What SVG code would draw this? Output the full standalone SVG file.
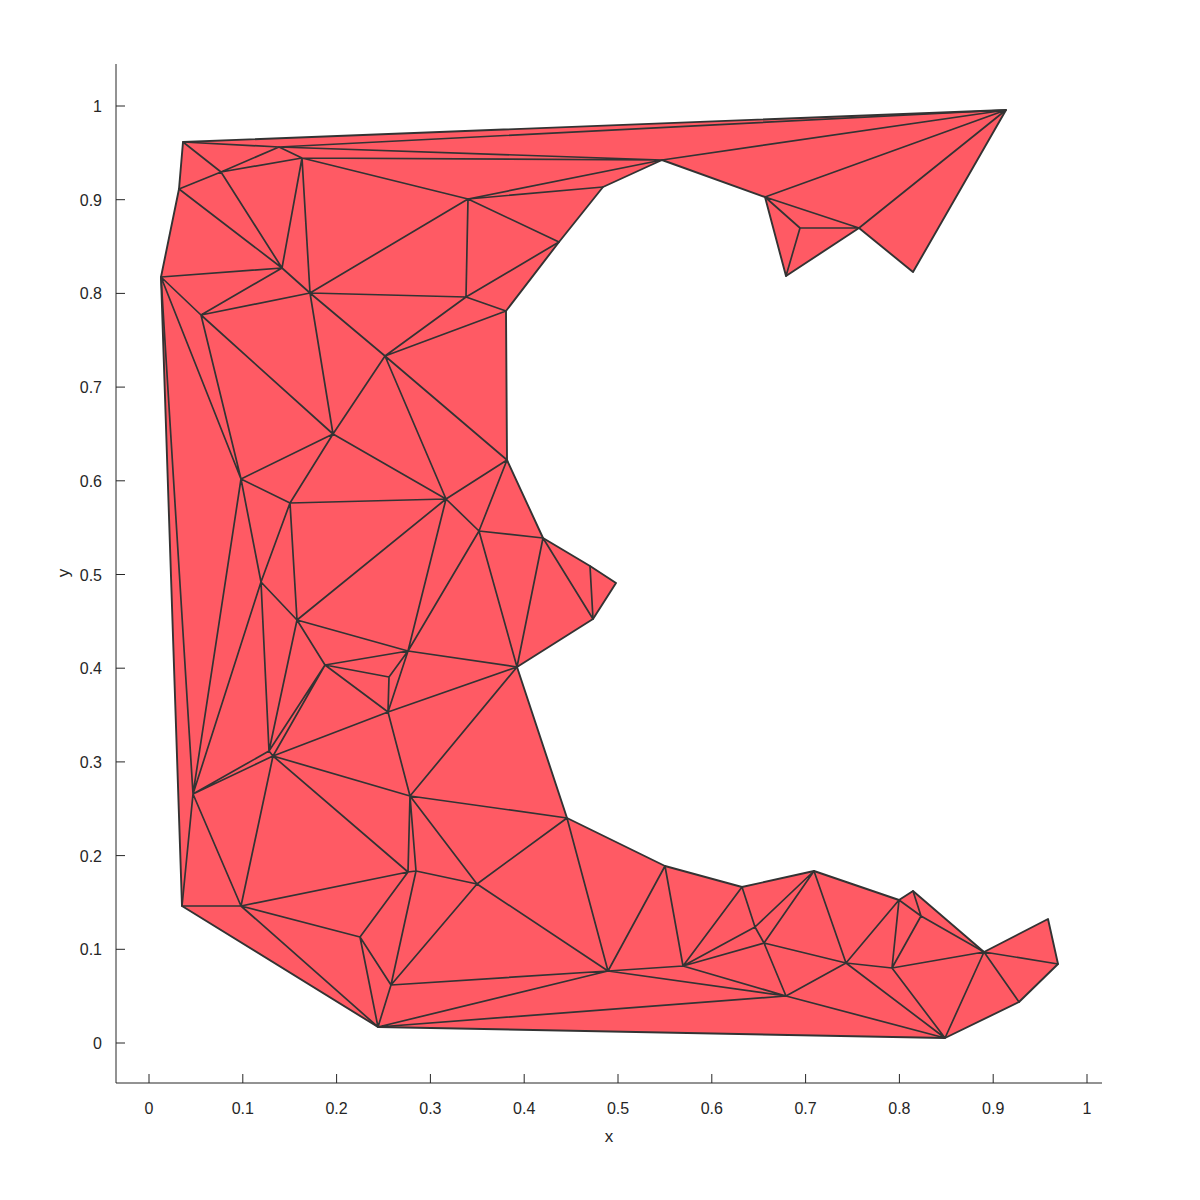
<svg xmlns="http://www.w3.org/2000/svg" width="1200" height="1200" viewBox="0 0 1200 1200">
<style>
.bg{fill:#ffffff}
.face{fill:#ff5a64;stroke:none}
.edge{stroke:#333333;stroke-width:1.7;fill:none;stroke-linecap:round;stroke-linejoin:round}
.bnd{stroke:#333333;stroke-width:1.9;fill:none;stroke-linejoin:round}
.axis{stroke:#262626;stroke-width:1;fill:none}
.tl{font-family:"Liberation Sans",Arial,Helvetica,sans-serif;font-size:16px;fill:#262626}
.lab{font-family:"Liberation Sans",Arial,Helvetica,sans-serif;font-size:17px;fill:#262626}
</style>
<rect class="bg" x="0" y="0" width="1200" height="1200"/>
<g id="mesh-fill">
<polygon class="face" points="183,142 1006,110 913,272 859,228 786,276 765,197 662,160 603,187 559,242 506,311 507,460 543,538 590,566 616,583 593,619 517,667 567,818 665,866 742,887 814,871 899,900 913,891 984,952 1048,919 1058,964 1019,1002 945,1038 378,1027 182,906 161,277 179,189"/>
</g>
<g id="connectors">
<path class="edge" d="
M183,142L279,147 M183,142L221,172 M279,147L221,172 M279,147L302,158 M302,158L221,172 M221,172L179,189 M221,172L282,268 M179,189L282,268 M302,158L282,268 M161,277L282,268 M282,268L310,293 M282,268L201,315 M302,158L310,293 M161,277L201,315 M201,315L310,293
M279,147L1006,110 M279,147L662,160 M302,158L662,160 M302,158L468,199 M468,199L662,160 M468,199L603,187 M468,199L559,242 M468,199L466,297 M559,242L466,297 M466,297L506,311 M310,293L468,199 M310,293L466,297 M310,293L385,356 M310,293L333,434 M385,356L466,297 M385,356L506,311
M662,160L1006,110 M765,197L1006,110 M765,197L800,228 M765,197L859,228 M800,228L859,228 M800,228L786,276 M859,228L1006,110
M201,315L241,479 M201,315L333,434 M161,277L241,479 M333,434L241,479 M241,479L290,503 M333,434L290,503 M333,434L385,356 M333,434L446,499 M290,503L446,499 M385,356L446,499 M385,356L507,460 M507,460L446,499 M507,460L479,531 M446,499L479,531 M479,531L543,538 M446,499L408,651 M446,499L297,620 M479,531L408,651 M479,531L517,667 M543,538L517,667 M543,538L593,619 M590,566L593,619
M161,277L193,794 M241,479L193,794 M241,479L261,582 M290,503L261,582 M290,503L297,620 M261,582L193,794 M261,582L269,751 M261,582L297,620 M297,620L269,751 M297,620L325,665 M297,620L408,651 M325,665L408,651 M325,665L389,677 M325,665L388,712 M325,665L269,751 M325,665L273,756 M269,751L273,756 M269,751L193,794 M273,756L193,794 M389,677L388,712 M389,677L408,651 M388,712L408,651 M388,712L517,667 M388,712L410,796 M388,712L273,756 M408,651L517,667 M517,667L410,796 M410,796L567,818
M273,756L410,796 M273,756L241,906 M273,756L408,872 M193,794L182,906 M193,794L241,906 M182,906L241,906 M241,906L408,872 M241,906L360,937 M241,906L378,1027 M360,937L378,1027 M360,937L391,985 M360,937L408,872 M391,985L378,1027 M408,872L416,871 M416,871L391,985 M410,796L408,872 M410,796L416,871 M410,796L477,884 M416,871L477,884 M477,884L567,818 M477,884L608,971 M477,884L391,985 M567,818L608,971 M608,971L665,866 M608,971L683,966 M665,866L683,966 M391,985L608,971 M378,1027L608,971 M378,1027L786,996 M608,971L786,996 M683,966L786,996
M683,966L742,887 M683,966L755,927 M683,966L764,943 M742,887L755,927 M814,871L755,927 M814,871L764,943 M755,927L764,943 M764,943L786,996 M764,943L846,963 M814,871L846,963 M786,996L846,963 M846,963L899,900 M846,963L892,968 M846,963L945,1038 M786,996L945,1038 M899,900L892,968 M899,900L921,916 M913,891L921,916 M921,916L892,968 M921,916L984,952 M892,968L984,952 M892,968L945,1038 M984,952L945,1038 M984,952L1019,1002 M984,952L1058,964"/>
<polygon class="bnd" points="183,142 1006,110 913,272 859,228 786,276 765,197 662,160 603,187 559,242 506,311 507,460 543,538 590,566 616,583 593,619 517,667 567,818 665,866 742,887 814,871 899,900 913,891 984,952 1048,919 1058,964 1019,1002 945,1038 378,1027 182,906 161,277 179,189"/>
</g>
<g id="axes">
<path class="axis" d="M116,64V1083H1102"/>
<path class="axis" d="M149,1083v-9 M242.8,1083v-9 M336.6,1083v-9 M430.4,1083v-9 M524.2,1083v-9 M618,1083v-9 M711.8,1083v-9 M805.6,1083v-9 M899.4,1083v-9 M993.2,1083v-9 M1087,1083v-9
M116,1043h9 M116,949.3h9 M116,855.6h9 M116,761.9h9 M116,668.2h9 M116,574.5h9 M116,480.8h9 M116,387.1h9 M116,293.4h9 M116,199.7h9 M116,106h9"/>
<g class="tl" text-anchor="middle">
<text x="149" y="1114">0</text>
<text x="242.8" y="1114">0.1</text>
<text x="336.6" y="1114">0.2</text>
<text x="430.4" y="1114">0.3</text>
<text x="524.2" y="1114">0.4</text>
<text x="618" y="1114">0.5</text>
<text x="711.8" y="1114">0.6</text>
<text x="805.6" y="1114">0.7</text>
<text x="899.4" y="1114">0.8</text>
<text x="993.2" y="1114">0.9</text>
<text x="1087" y="1114">1</text>
</g>
<g class="tl" text-anchor="end">
<text x="102" y="1049">0</text>
<text x="102" y="955.3">0.1</text>
<text x="102" y="861.6">0.2</text>
<text x="102" y="767.9">0.3</text>
<text x="102" y="674.2">0.4</text>
<text x="102" y="580.5">0.5</text>
<text x="102" y="486.8">0.6</text>
<text x="102" y="393.1">0.7</text>
<text x="102" y="299.4">0.8</text>
<text x="102" y="205.7">0.9</text>
<text x="102" y="112">1</text>
</g>
<text class="lab" x="609" y="1142" text-anchor="middle">x</text>
<text class="lab" x="0" y="0" text-anchor="middle" transform="translate(69,573) rotate(-90)">y</text>
</g>
</svg>
